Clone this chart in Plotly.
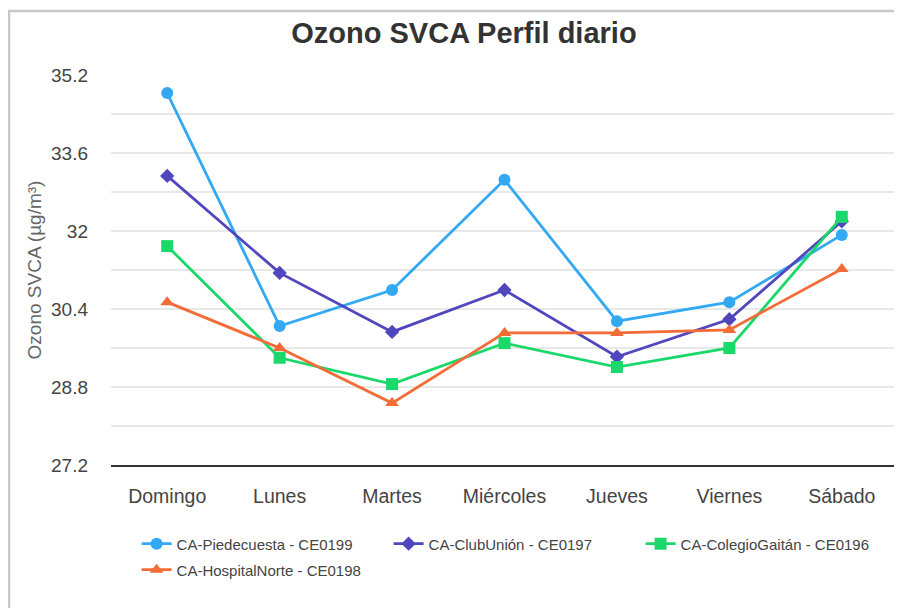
import plotly.graph_objects as go

days = ["Domingo", "Lunes", "Martes", "Miércoles", "Jueves", "Viernes", "Sábado"]
piedecuesta = [34.83, 30.05, 30.79, 33.05, 30.15, 30.54, 31.92]
clubunion = [33.13, 31.14, 29.93, 30.79, 29.42, 30.19, 32.20]
colegiogaitan = [31.69, 29.40, 28.86, 29.70, 29.21, 29.60, 32.29]
hospitalnorte = [30.54, 29.60, 28.47, 29.91, 29.91, 29.97, 31.22]
ytick_vals = [27.2, 28.8, 30.4, 32.0, 33.6, 35.2]
ytick_text = ["27.2", "28.8", "30.4", "32", "33.6", "35.2"]

series = [
    ("CA-Piedecuesta - CE0199", piedecuesta, "#33a9f4", "circle", 12, "legend"),
    ("CA-ClubUnión - CE0197", clubunion, "#5046bd", "diamond", 11, "legend"),
    ("CA-ColegioGaitán - CE0196", colegiogaitan, "#1ad86a", "square", 12, "legend"),
    ("CA-HospitalNorte - CE0198", hospitalnorte, "#f36b37", "triangle-up", 12, "legend2"),
]

fig = go.Figure()
for name, vals, col, sym, sz, lg in series:
    fig.add_trace(go.Scatter(
        x=days, y=vals, name=name, mode="lines+markers",
        line=dict(color=col, width=2.8),
        marker=dict(symbol=sym, size=sz, color=col),
        legend=lg,
    ))

W, H = 894, 600
L, R, T, B = 103, 4, 67, 143
PH = H - T - B
PW = W - L - R

legend_common = dict(orientation="h", x=0.0376 - 4 / PW, xanchor="left", yanchor="top",
                     entrywidth=207, font=dict(size=15, color="#444"),
                     itemwidth=30, itemsizing="trace", bgcolor="rgba(0,0,0,0)")

fig.update_layout(
    width=W, height=H,
    margin=dict(l=L, r=R, t=T, b=B),
    paper_bgcolor="white", plot_bgcolor="white",
    font=dict(family="Liberation Sans, Arial, sans-serif", color="#444"),
    title=dict(text="<b>Ozono SVCA Perfil diario</b>", x=0.51, xanchor="center",
               y=1 - 25 / H, yanchor="middle", font=dict(size=29, color="#333")),
    showlegend=True,
    legend=dict(y=-0.16, **legend_common),
    legend2=dict(y=-0.16 - 26 / PH, **legend_common),
    xaxis=dict(showgrid=False, showline=True, linecolor="#333", linewidth=1.5,
               tickfont=dict(size=19.5, color="#444"), ticks="",
               ticklabelstandoff=13, range=[-0.5, 6.5], fixedrange=True),
    yaxis=dict(range=[27.2, 35.2], tickvals=ytick_vals, ticktext=ytick_text,
               showgrid=True, gridcolor="#e8e8e8", gridwidth=1.5,
               minor=dict(dtick=0.8, tick0=27.2, showgrid=True, gridcolor="#e8e8e8", gridwidth=1.5),
               zeroline=False, showline=False, ticks="",
               tickfont=dict(size=19, color="#444"), ticklabelstandoff=22,
               title=dict(text="Ozono SVCA (µg/m³)", font=dict(size=19, color="#666"), standoff=4)),
)

# outer frame
fig.add_shape(type="rect", xref="paper", yref="paper",
              x0=(1 - L) / PW, x1=(W + 10 - L) / PW,
              y0=(T + PH - (H + 10)) / PH, y1=(T + PH - 3) / PH,
              line=dict(color="#c8c8c8", width=2.5), layer="below")

fig.write_html("out.html")
